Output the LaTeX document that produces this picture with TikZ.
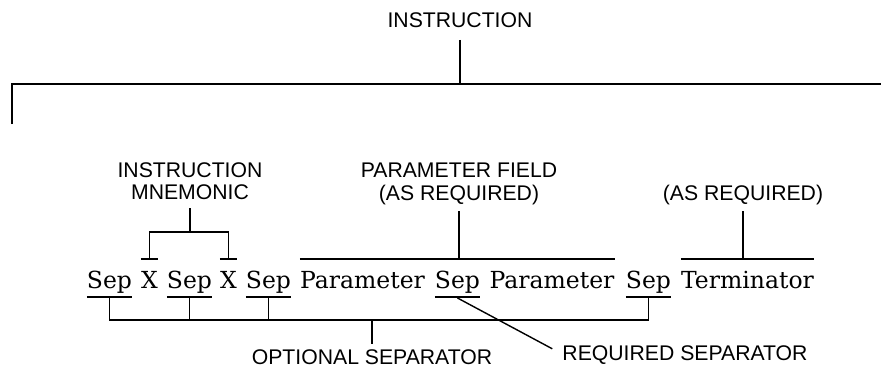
\documentclass[tikz,border=0pt]{standalone}
\usepackage{fontspec}
\newfontfamily\labelfont{Liberation Sans}
\newfontfamily\wordfont{DejaVu Serif}
\tikzset{
  word/.style={font=\wordfont\fontsize{23.5}{26}\selectfont, inner sep=0pt, anchor=base},
  caption/.style={font=\labelfont\fontsize{21.2}{22.5}\selectfont, align=center, inner sep=0pt, anchor=south},
  bar/.style={line width=1.4pt}
}
\begin{document}
\begin{tikzpicture}[x=1pt,y=1pt]
\useasboundingbox (0,0) rectangle (881,-369);
% Words of the instruction line
\node[word] (sepA) at (109.5,-288) {Sep};
\node[word] (xA) at (149.5,-288) {X};
\node[word] (sepB) at (189.5,-288) {Sep};
\node[word] (xB) at (228.5,-288) {X};
\node[word] (sepC) at (268.5,-288) {Sep};
\node[word] (parA) at (362.5,-288) {Parameter};
\node[word] (sepD) at (457.5,-288) {Sep};
\node[word] (parB) at (552,-288) {Parameter};
\node[word] (sepE) at (648.5,-288) {Sep};
\node[word] (term) at (747.5,-288) {Terminator};
% Captions
\node[caption] (instr) at (460,-28) {INSTRUCTION};
\node[caption] (mnem) at (190,-200) {INSTRUCTION\\MNEMONIC};
\node[caption] (field) at (459,-205) {PARAMETER FIELD\\(AS REQUIRED)};
\node[caption] (termreq) at (743,-205) {(AS REQUIRED)};
\node[caption] (optsep) at (372,-365) {OPTIONAL SEPARATOR};
\node[caption] (reqsep) at (685,-365) {REQUIRED SEPARATOR};
% Top bracket
\coordinate (leftend) at (12,-124);
\coordinate (rightend) at (881,-84);
\draw[bar] (leftend) |- (rightend);
\draw[bar] ([yshift=-12pt]instr.south) -- (instr.south |- rightend);
% Mnemonic bracket
\coordinate (xAtop) at ([yshift=29pt]xA.base);
\coordinate (xBtop) at ([yshift=29pt]xB.base);
\coordinate (mnemjoin) at (190,-232);
\draw[bar] ([yshift=29pt]xA.base west) -- ([yshift=29pt]xA.base east);
\draw[bar] ([yshift=29pt]xB.base west) -- ([yshift=29pt]xB.base east);
\draw[bar] (xAtop) |- (mnemjoin) -| (xBtop);
\draw[bar] ([yshift=-8pt]mnem.south) -- (mnemjoin);
% Parameter field and terminator
\draw[bar] ([yshift=29pt]parA.base west) coordinate (fieldleft) -- ([yshift=29pt]parB.base east);
\draw[bar] ([yshift=-6pt]field.south) -- (field.south |- fieldleft);
\draw[bar] ([yshift=29pt]term.base west) coordinate (termleft) -- ([yshift=29pt]term.base east);
\draw[bar] ([yshift=-6pt]termreq.south) -- (termreq.south |- termleft);
% Separator underlines
\draw[bar] ([yshift=-9pt]sepA.base west) -- ([yshift=-9pt]sepA.base east);
\draw[bar] ([yshift=-9pt]sepB.base west) -- ([yshift=-9pt]sepB.base east);
\draw[bar] ([yshift=-9pt]sepC.base west) -- ([yshift=-9pt]sepC.base east);
\draw[bar] ([yshift=-9pt]sepD.base west) -- ([yshift=-9pt]sepD.base east);
\draw[bar] ([yshift=-9pt]sepE.base west) -- ([yshift=-9pt]sepE.base east);
% Optional separator bracket
\coordinate (sepAlow) at ([yshift=-9pt]sepA.base);
\coordinate (sepBlow) at ([yshift=-9pt]sepB.base);
\coordinate (sepClow) at ([yshift=-9pt]sepC.base);
\coordinate (sepElow) at ([yshift=-9pt]sepE.base);
\coordinate (optjoin) at (372,-320);
\draw[bar] (sepAlow) |- (optjoin) -| (sepElow);
\draw[bar] (sepBlow) -- (sepBlow |- optjoin);
\draw[bar] (sepClow) -- (sepClow |- optjoin);
\draw[bar] (optjoin) -- ([yshift=6pt]optsep.north);
% Required separator pointer
\draw[bar] ([yshift=-10pt]sepD.base) -- ([xshift=-10pt,yshift=-3pt]reqsep.north west);
\end{tikzpicture}
\end{document}
